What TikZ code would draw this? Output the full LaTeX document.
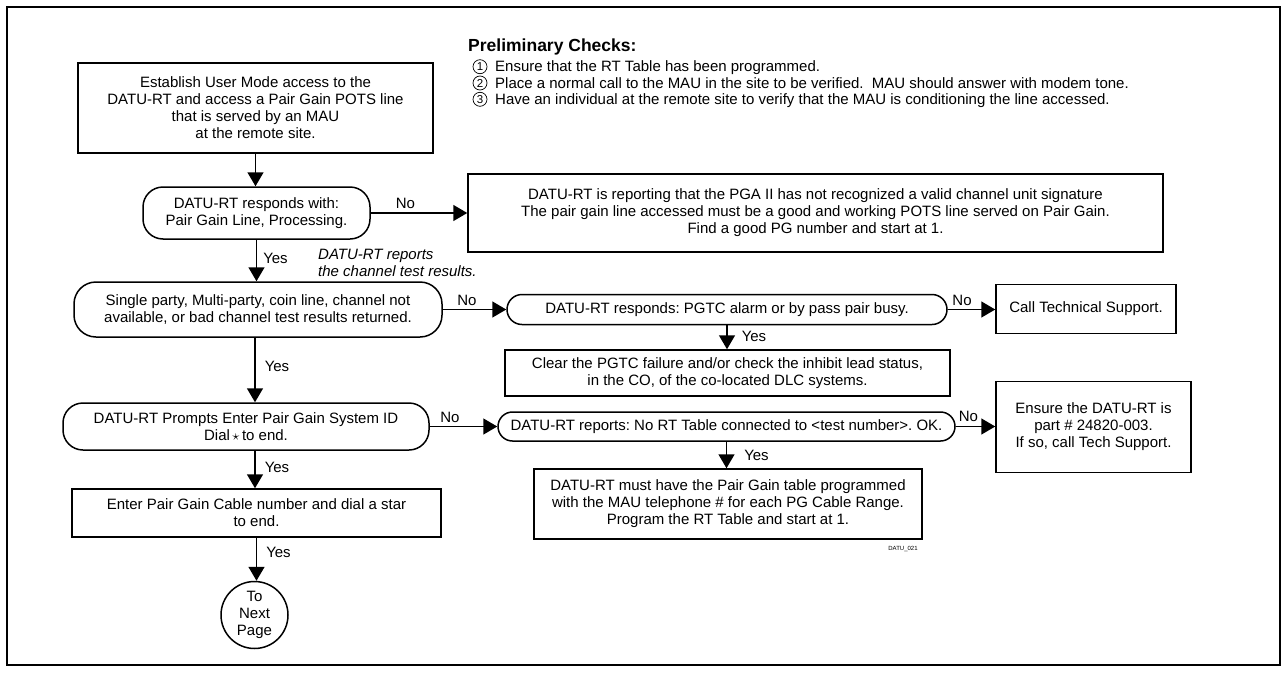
\documentclass[tikz,border=0pt]{standalone}
\usepackage{fontspec}
\setmainfont{Liberation Sans}
\usetikzlibrary{arrows.meta,calc}
\frenchspacing
\begin{document}
\begin{tikzpicture}[x=1pt,y=-1pt,
  every node/.style={font=\fontsize{15}{17}\selectfont, inner sep=0pt},
  proc/.style={draw, line width=1.5pt, align=center},
  dec/.style={draw, line width=1.5pt, align=center, rounded corners=#1},
  dec/.default=20pt,
  arr/.style={line width=1.5pt, -{Triangle[length=14pt,width=16pt]}},
  lbl/.style={font=\fontsize{15}{17}\selectfont},
  numc/.style={circle, draw, line width=0.7pt, minimum size=14pt, font=\fontsize{11.5}{11.5}\selectfont}
]
\useasboundingbox (0,0) rectangle (1285,672);
\draw[line width=2pt] (7,7) rectangle (1280,665);

% Preliminary checks
\node[anchor=base west, font=\fontsize{17.5}{20}\selectfont\bfseries] (title) at (468,51.7) {Preliminary Checks:};
\node[numc] (c1) at (480,66.7) {1};
\node[numc] (c2) at (480,83.0) {2};
\node[numc] (c3) at (480,99.3) {3};
\node[anchor=base west] (l1) at (495,71.7) {Ensure that the RT Table has been programmed.};
\node[anchor=base west] (l2) at (495,88.0) {Place a normal call to the MAU in the site to be verified.\ \ MAU should answer with modem tone.};
\node[anchor=base west] (l3) at (495,104.3) {Have an individual at the remote site to verify that the MAU is conditioning the line accessed.};

% main nodes
\node[proc, minimum width=355, minimum height=90] (b1) at (255.5,108)
  {Establish User Mode access to the\\DATU-RT and access a Pair Gain POTS line\\that is served by an MAU\\at the remote site.};
\node[dec=20pt, minimum width=227, minimum height=52] (d1) at (256.5,213)
  {DATU-RT responds with:\\Pair Gain Line, Processing.};
\node[proc, minimum width=695, minimum height=78] (b2) at (815.5,213)
  {DATU-RT is reporting that the PGA II has not recognized a valid channel unit signature\\The pair gain line accessed must be a good and working POTS line served on Pair Gain.\\Find a good PG number and start at 1.};
\node[anchor=west, align=left, font=\fontsize{15}{17}\selectfont\itshape] (note) at (318,262.5)
  {DATU-RT reports\\the channel test results.};
\node[dec=22pt, minimum width=368, minimum height=55] (d2) at (258,309.5)
  {Single party, Multi-party, coin line, channel not\\available, or bad channel test results returned.};
\node[dec=15pt, minimum width=440, minimum height=30] (d3) at (727,309.5)
  {DATU-RT responds: PGTC alarm or by pass pair busy.};
\node[proc, minimum width=180, minimum height=49] (call) at (1086,309)
  {Call Technical Support.};
\node[proc, minimum width=445, minimum height=46] (clear) at (727.5,373)
  {Clear the PGTC failure and/or check the inhibit lead status,\\in the CO, of the co-located DLC systems.};
\node[dec=20pt, minimum width=366, minimum height=47] (d4) at (246,426.5)
  {DATU-RT Prompts Enter Pair Gain System ID\\Dial\,$\star$\,to end.};
\node[dec=14.5pt, minimum width=457, minimum height=29] (d5) at (726.5,426.5)
  {DATU-RT reports: No RT Table connected to <test number>. OK.};
\node[proc, minimum width=195, minimum height=91] (ens) at (1093.5,427)
  {Ensure the DATU-RT is\\part \# 24820-003.\\If so, call Tech Support.};
\node[proc, minimum width=388, minimum height=70] (must) at (728,504)
  {DATU-RT must have the Pair Gain table programmed\\with the MAU telephone \# for each PG Cable Range.\\Program the RT Table and start at 1.};
\node[font=\fontsize{6}{7}\selectfont] (id) at (903,549) {DATU\_021};
\node[proc, minimum width=369, minimum height=48] (b5) at (256.5,513)
  {Enter Pair Gain Cable number and dial a star\\to end.};
\node[circle, draw, line width=1.5pt, minimum size=67, align=center] (nxt) at (254.5,615)
  {To\\Next\\Page};

% connectors
\draw[arr] (b1.south) -- (b1.south |- d1.north);
\draw[arr] (d1.east) -- (d1.east -| b2.west) node[lbl, pos=0.36, above=4pt] {No};
\draw[arr] (d1.south) -- (d1.south |- d2.north) node[lbl, pos=0.45, right=6pt] {Yes};
\draw[arr] (d2.east) -- (d3.west) node[lbl, pos=0.38, above=3pt] {No};
\draw[arr] (d3.east) -- (d3.east -| call.west) node[lbl, pos=0.3, above=3pt] {No};
\draw[arr] (d3.south) -- (d3.south |- clear.north) node[lbl, pos=0.45, right=14pt] {Yes};
\draw[arr] ([xshift=-3pt]d2.south) -- ([xshift=-3pt]d2.south |- d4.north) node[lbl, pos=0.45, right=9pt] {Yes};
\draw[arr] (d4.east) -- (d5.west) node[lbl, pos=0.3, above=3pt] {No};
\draw[arr] (d5.east) -- (d5.east -| ens.west) node[lbl, pos=0.32, above=4pt] {No};
\draw[arr] (d5.south) -- (d5.south |- must.north) node[lbl, pos=0.5, right=17pt] {Yes};
\draw[arr] ([xshift=9pt]d4.south) -- ([xshift=9pt]d4.south |- b5.north) node[lbl, pos=0.45, right=9pt] {Yes};
\draw[arr] (b5.south) -- (b5.south |- nxt.north) node[lbl, pos=0.35, right=9pt] {Yes};
\end{tikzpicture}
\end{document}
